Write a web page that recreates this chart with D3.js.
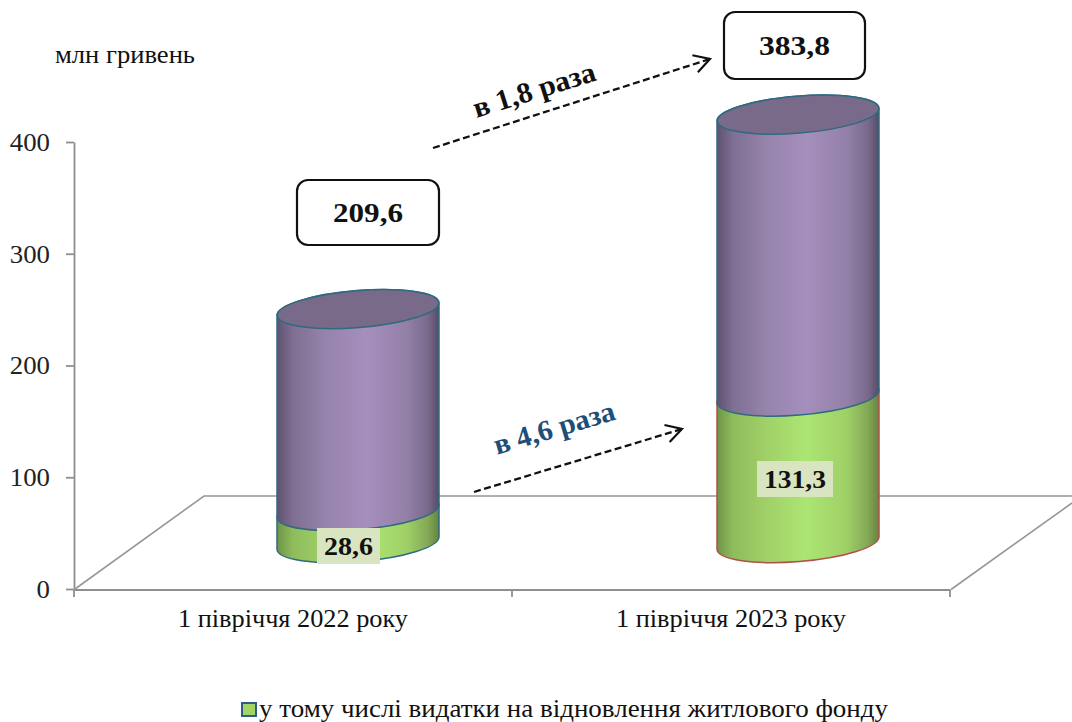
<!DOCTYPE html>
<html><head><meta charset="utf-8">
<script src="https://cdnjs.cloudflare.com/ajax/libs/d3/7.8.5/d3.min.js"></script>
<style>html,body{margin:0;padding:0;background:#fff}svg{display:block}text{font-family:"Liberation Serif",serif;fill:#111}</style>
</head><body><svg id="c" width="1072" height="722"></svg>
<script>
const categories = ["1 півріччя 2022 року", "1 півріччя 2023 року"];
const housing = [28.6, 131.3];
const total = [209.6, 383.8];
const housingLabels = ["28,6", "131,3"];
const totalLabels = ["209,6", "383,8"];
const yTicks = [0, 100, 200, 300, 400];
const legendText = "у тому числі видатки на відновлення житлового фонду";
const unitLabel = "млн гривень";
const growthLabels = ["в 1,8 раза", "в 4,6 раза"];

const svg = d3.select("#c");
const defs = svg.append("defs");
function grad(id, stops){
  const g = defs.append("linearGradient").attr("id", id);
  stops.forEach(s => g.append("stop").attr("offset", s[0]).attr("stop-color", s[1]));
}
grad("purple", [[0,"#5f5270"],[.1,"#7f6f93"],[.3,"#9683ab"],[.55,"#a58fbd"],[.8,"#9380a8"],[.93,"#796a8c"],[1,"#574b66"]]);
grad("green", [[0,"#6e9447"],[.1,"#8fbc5c"],[.3,"#a0d067"],[.55,"#ace672"],[.8,"#9fd067"],[.93,"#84a857"],[1,"#65853f"]]);

function fit(sel, w){ return sel.attr("textLength", w).attr("lengthAdjust", "spacingAndGlyphs"); }

// axes
const y = d3.scaleLinear().domain([0, 400]).range([589, 142]);
const x = d3.scaleBand().domain(categories).range([74, 950]);
const yAxis = d3.axisLeft(y).tickValues(yTicks).tickSize(8).tickSizeOuter(0).tickPadding(16).tickFormat(d3.format("d"));
const xAxis = d3.axisBottom(x).tickSize(0).tickPadding(20);
const axisCol = "#8f8f8f";

// floor
const floor = svg.append("g").attr("fill","none").attr("stroke","#979797").attr("stroke-width",1.6);
floor.append("path").attr("d", d3.line()([[75,589],[204,496],[1072,496]]));
floor.append("path").attr("d", d3.line()([[951,589.5],[1072,503]]));

const gy = svg.append("g").attr("transform","translate(74,0)").call(yAxis);
gy.selectAll("path,line").attr("stroke",axisCol).attr("stroke-width",1.8);
gy.selectAll("text").attr("font-size",26).style("fill","#222").style("font-family","Liberation Serif")
  .each(function(d){ fit(d3.select(this), String(d).length*13.4); });
const gx = svg.append("g").attr("transform","translate(0,589.5)").call(xAxis);
gx.selectAll("path").attr("stroke",axisCol).attr("stroke-width",1.8);
gx.selectAll("text").attr("font-size",25).style("fill","#111").style("font-family","Liberation Serif")
  .call(fit, 230);
svg.append("g").selectAll("line").data(x.domain().map(c=>x(c)).concat(x.range()[1])).join("line")
  .attr("x1",d=>d).attr("x2",d=>d).attr("y1",590).attr("y2",597)
  .attr("stroke",axisCol).attr("stroke-width",1.8);

// cylinders
const h = d3.scaleLinear().domain([0, 400]).range([543, 96.6]);
const rx = 81, ry = 18.5, rot = -4.6, tilt = 6.5;
const edge = "#2f6a80";
function bodyPath(cx, vLow, vHigh){
  const yl = h(vLow), yh = h(vHigh);
  const a = `A${rx} ${ry} ${rot} 0 0`;
  return `M${cx-rx} ${yh+tilt}L${cx-rx} ${yl+tilt}${a} ${cx+rx} ${yl-tilt}L${cx+rx} ${yh-tilt}${a} ${cx-rx} ${yh+tilt}Z`;
}
const gb = svg.append("g");
categories.forEach((c,i)=>{
  const cx = x(c) + x.bandwidth()/2 + (i===0 ? 65 : 67);
  const stroke0 = i===0 ? edge : "#b0504a";
  gb.append("path").attr("d", bodyPath(cx,0,housing[i])).attr("fill","url(#green)").attr("stroke",stroke0).attr("stroke-width",1.5);
  gb.append("path").attr("d", bodyPath(cx,housing[i],total[i])).attr("fill","url(#purple)").attr("stroke",edge).attr("stroke-width",1.5);
  gb.append("ellipse").attr("rx",rx).attr("ry",ry)
    .attr("transform",`translate(${cx},${h(total[i])}) rotate(${rot})`)
    .attr("fill","#786a88").attr("stroke",edge).attr("stroke-width",1.5);
});

// value labels on green
const bx = [[317,528,63,36,49],[757,461,76,36,62]];
housingLabels.forEach((t,i)=>{
  const b = bx[i];
  svg.append("rect").attr("x",b[0]).attr("y",b[1]).attr("width",b[2]).attr("height",b[3]).attr("fill","#d9e5c0");
  svg.append("text").attr("x",b[0]+b[2]/2).attr("y",b[1]+b[3]/2+9).attr("text-anchor","middle")
    .attr("font-size",26).attr("font-weight","bold").call(fit,b[4]).text(t);
});

// total boxes
const boxes = [[297,180,142,65,70],[724,12,141,67,71]];
totalLabels.forEach((t,i)=>{
  const b = boxes[i];
  svg.append("rect").attr("x",b[0]).attr("y",b[1]).attr("width",b[2]).attr("height",b[3]).attr("rx",11)
    .attr("fill","#fff").attr("stroke","#111").attr("stroke-width",2.2);
  svg.append("text").attr("x",b[0]+b[2]/2).attr("y",b[1]+b[3]/2+9).attr("text-anchor","middle")
    .attr("font-size",28).attr("font-weight","bold").call(fit,b[4]).text(t);
});

svg.append("text").attr("x",55).attr("y",63).attr("font-size",25).call(fit,140).text(unitLabel);

// arrows
function arrow(x1,y1,x2,y2){
  svg.append("line").attr("x1",x1).attr("y1",y1).attr("x2",x2).attr("y2",y2)
    .attr("stroke","#111").attr("stroke-width",2.3).attr("stroke-dasharray","7 3.5");
  const ang = Math.atan2(y2-y1,x2-x1), L=18, sp=0.52;
  const p = s => [x2-L*Math.cos(ang+s), y2-L*Math.sin(ang+s)];
  svg.append("path").attr("d", d3.line()([p(sp),[x2,y2],p(-sp)])).attr("fill","none").attr("stroke","#111").attr("stroke-width",2.2);
}
arrow(433,148,710,59);
arrow(474,492,682,429);
svg.append("text").attr("transform","translate(537,99) rotate(-17.5)").attr("text-anchor","middle")
  .attr("font-size",29).attr("font-weight","bold").call(fit,127).text(growthLabels[0]);
svg.append("text").attr("transform","translate(557,437) rotate(-16.5)").attr("text-anchor","middle")
  .attr("font-size",29).attr("font-weight","bold").style("fill","#1f4e79").call(fit,125).text(growthLabels[1]);

// legend
svg.append("rect").attr("x",242).attr("y",703).attr("width",14).attr("height",13)
  .attr("fill","#a3d566").attr("stroke","#2c5c8a").attr("stroke-width",2);
svg.append("text").attr("x",259).attr("y",717).attr("font-size",25).call(fit,629).text(legendText);
</script></body></html>
